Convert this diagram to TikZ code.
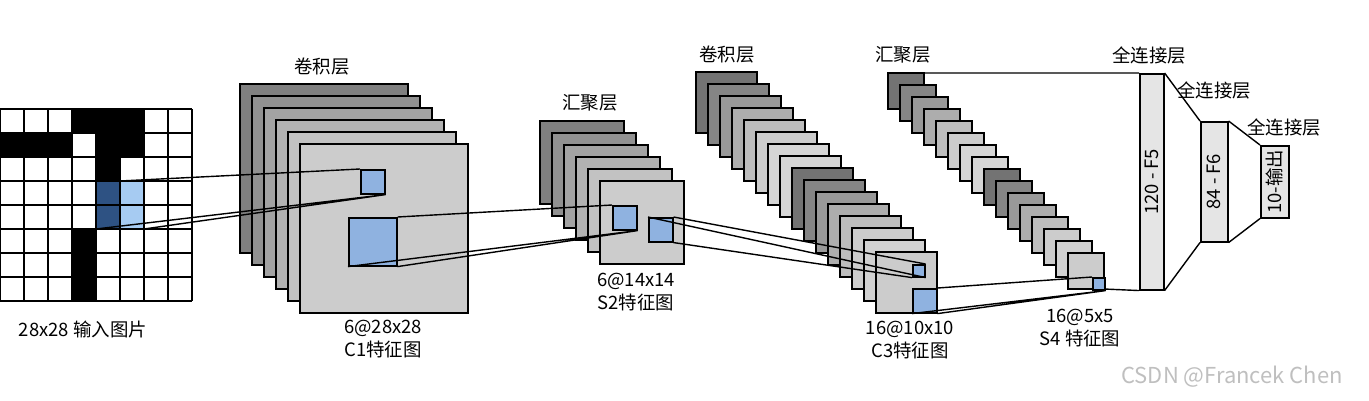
\documentclass[tikz,border=0pt]{standalone}
\usepackage{fontspec}
\setmainfont{Noto Sans CJK SC}
\begin{document}
\begin{tikzpicture}[x=0.02cm,y=-0.02cm,line width=0.8pt,
  lab/.style={font=\fontsize{10.5}{13}\selectfont,inner sep=0pt,align=center},
  sheet/.style={draw=black,line width=0.9pt},
  bluesq/.style={draw=black,line width=0.9pt,minimum size=#1,inner sep=0pt,anchor=north west},
  fc/.style={draw=black,fill=black!10,line width=0.9pt,inner sep=0pt,anchor=north west}]
\definecolor{bsq}{HTML}{8FB2E0}
\definecolor{dblue}{HTML}{2E5283}
\definecolor{lblue}{HTML}{A6CBF2}
\useasboundingbox (0,0) rectangle (1369,400);
% input grid
\foreach \c/\r in {3/0,4/0,5/0,0/1,1/1,2/1,4/1,5/1,4/2,3/5,3/6,3/7}
  \fill[black] (\c*24,109+\r*24) rectangle ++(24,24);
\fill[dblue] (96,181) rectangle (120,229);
\fill[lblue] (120,181) rectangle (144,229);
\foreach \k in {0,...,8} {
  \draw[line width=0.9pt] (\k*24,109) -- (\k*24,301);
  \draw[line width=0.9pt] (0,109+\k*24) -- (192,109+\k*24);
}
\coordinate (inA) at (120,181);
\coordinate (inB) at (96,229);
\coordinate (inC) at (144,229);
\node[lab] (lin) at (83,329) {28x28 输入图片};
% C1
\foreach \i/\g in {0/50,1/57,2/64,3/70,4/76,5/80}
  \draw[sheet,fill=white!\g!black] (240+\i*12,84+\i*12) rectangle ++(168,169);
\node[bluesq=0.48cm,fill=bsq] (c1a) at (360,169) {};
\node[bluesq=0.96cm,fill=bsq] (c1b) at (348,217) {};
\draw (inA) -- (c1a.north west) (inB) -- (c1a.south east) (inC) -- (c1a.south east);
\node[lab] (l1) at (322,67) {卷积层};
\node[lab] (l1b) at (383,339) {6@28x28\\C1特征图};
% S2
\foreach \i/\g in {0/50,1/57,2/64,3/70,4/76,5/80}
  \draw[sheet,fill=white!\g!black] (540+\i*12,121+\i*12) rectangle ++(84,83);
\node[bluesq=0.48cm,fill=bsq] (s2a) at (612,205) {};
\node[bluesq=0.48cm,fill=bsq] (s2b) at (648,217) {};
\draw (c1b.north east) -- (s2a.north west) (c1b.south west) -- (s2a.south east) (c1b.south east) -- (s2a.south east);
\node[lab] (l2) at (590,103) {汇聚层};
\node[lab] (l2b) at (636,292) {6@14x14\\S2特征图};
% C3
\foreach \i/\g in {0/45,1/52,2/60,3/68,4/74,5/80,6/84,7/84,8/45,9/52,10/60,11/68,12/74,13/80,14/82,15/80}
  \draw[sheet,fill=white!\g!black] (696+\i*12,72+\i*12) rectangle ++(61,61);
\node[bluesq=0.24cm,fill=bsq] (c3a) at (912,264) {};
\node[bluesq=0.48cm,fill=bsq] (c3b) at (912,288) {};
\draw (s2b.north east) -- (c3a.north east) (s2b.north west) -- (c3a.south east) (s2b.south east) -- (c3a.south west);
\node[lab] (l3) at (727,55) {卷积层};
\node[lab] (l3b) at (910,340) {16@10x10\\C3特征图};
% S4
\foreach \i/\g in {0/45,1/52,2/60,3/68,4/74,5/80,6/84,7/84,8/45,9/52,10/60,11/68,12/74,13/80,14/82,15/80}
  \draw[sheet,fill=white!\g!black] (888+\i*12,73+\i*12) rectangle ++(36,36);
\node[bluesq=0.24cm,fill=bsq] (s4a) at (1092,277) {};
\draw (c3b.north east) -- (s4a.north west) (c3b.south west) -- (s4a.south east) (c3b.south east) -- (s4a.south east);
\node[lab] (l4) at (903,55) {汇聚层};
\node[lab] (l4b) at (1080,328) {16@5x5\\S4 特征图};
\coordinate (s4top) at (924,73);
\coordinate (s4bot) at (1104,289);
% FC
\node[fc,minimum width=0.48cm,minimum height=4.32cm] (f5) at (1139,73) {};
\node[lab,rotate=90] at (f5.center) {120 - F5};
\node[fc,minimum width=0.54cm,minimum height=2.4cm] (f6) at (1200,121) {};
\node[lab,rotate=90] at (f6.center) {84 - F6};
\node[fc,minimum width=0.56cm,minimum height=1.44cm] (out) at (1260,145) {};
\node[lab,rotate=90] at (out.center) {10-输出};
\draw (s4top) -- (f5.north west) (s4bot) -- (f5.south west);
\draw (f5.north east) -- (f6.north west) (f5.south east) -- (f6.south west);
\draw (f6.north east) -- (out.north west) (f6.south east) -- (out.south west);
\node[lab] (l5) at (1149,55) {全连接层};
\node[lab] (l6) at (1214,90) {全连接层};
\node[lab] (l7) at (1284,127) {全连接层};
\node[lab,text=black!25,font=\fontsize{12.5}{14}\selectfont] (wm) at (1232,377) {CSDN @Francek Chen};
\end{tikzpicture}
\end{document}
